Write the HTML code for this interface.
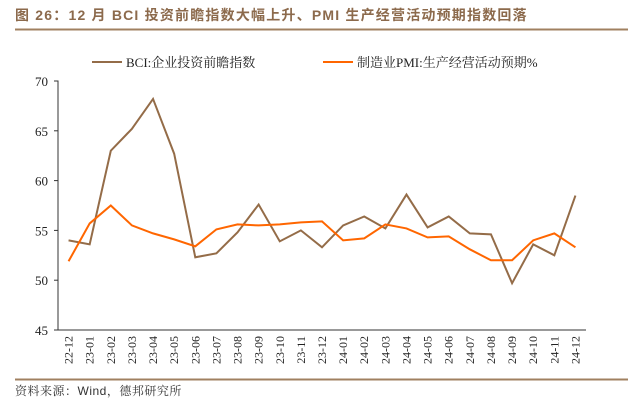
<!DOCTYPE html>
<html><head><meta charset="utf-8"><style>
body{margin:0;width:643px;height:407px;background:#fff;overflow:hidden;font-family:"Liberation Serif","Noto Serif CJK SC",serif}
#title{position:absolute;left:15px;top:5px;font:bold 14px "Liberation Sans","Noto Sans CJK SC",sans-serif;color:#8c6a4c;white-space:nowrap;letter-spacing:1.2px}
#src{position:absolute;left:15px;top:382px;font:12px "Liberation Sans","Noto Serif CJK SC",sans-serif;color:#333;letter-spacing:0.5px}
</style></head><body>
<div id="title">图 26：12 月 BCI 投资前瞻指数大幅上升、PMI 生产经营活动预期指数回落</div>
<svg id="c" width="643" height="407" style="position:absolute;left:0;top:0"></svg>
<div id="src">资料来源：Wind，德邦研究所</div>
<script>
const categories=["22-12","23-01","23-02","23-03","23-04","23-05","23-06","23-07","23-08","23-09","23-10","23-11","23-12","24-01","24-02","24-03","24-04","24-05","24-06","24-07","24-08","24-09","24-10","24-11","24-12"];
const bciValues=[54.0,53.6,63.0,65.2,68.2,62.7,52.3,52.7,54.8,57.6,53.9,55.0,53.3,55.5,56.4,55.2,58.6,55.3,56.4,54.7,54.6,49.7,53.6,52.5,58.5];
const pmiValues=[51.9,55.7,57.5,55.5,54.7,54.1,53.4,55.1,55.6,55.5,55.6,55.8,55.9,54.0,54.2,55.6,55.2,54.3,54.4,53.1,52.0,52.0,54.0,54.7,53.3];
const yTicks=[45,50,55,60,65,70];
const NS="http://www.w3.org/2000/svg",svg=document.getElementById('c');
const x0=58,x1=586,yTop=81,yBot=330;
const xs=i=>x0+(x1-x0)/categories.length*(i+0.5);
const ys=v=>yBot-(v-45)/25*(yBot-yTop);
function mk(t,a,p){const e=document.createElementNS(NS,t);for(const k in a)e.setAttribute(k,a[k]);(p||svg).appendChild(e);return e;}
let e;
e=mk('line',{x1:15,x2:628,y1:29.5,y2:29.5,stroke:'#a08060','stroke-width':2});

e=mk('line',{x1:15,x2:628,y1:379.5,y2:379.5,stroke:'#a08060','stroke-width':2});

e=mk('path',{d:`M${x0-4},${yTop}H${x0}V${yBot}H${x1}`,fill:'none',stroke:'#333','stroke-width':1});

yTicks.forEach(v=>{
 const y=ys(v);
 const tk=mk('line',{x1:x0-4,x2:x0,y1:y,y2:y,stroke:'#333'});
 
 const t=mk('text',{x:x0-10,y:y+5,'text-anchor':'end','font-size':13,fill:'#222'});t.textContent=v;
 
});
categories.forEach((c,i)=>{
 const x=xs(i);
 const t=mk('text',{x:0,y:0,transform:`translate(${x+4},${336}) rotate(-90)`,'text-anchor':'end','font-size':12,fill:'#222'});t.textContent=c;
 
});
function line(vals,color,name){
 const p=mk('polyline',{points:vals.map((v,i)=>xs(i)+','+ys(v)).join(' '),fill:'none',stroke:color,'stroke-width':2,'stroke-linejoin':'miter'});
 
}
line(bciValues,'#946c48','bci-line');
line(pmiValues,'#ff6600','pmi-line');
function legend(x,color,label,name){
 const g=mk('g',{});
 
 mk('line',{x1:x,x2:x+30,y1:62,y2:62,stroke:color,'stroke-width':2},g);
 const t=mk('text',{x:x+34,y:67,'font-size':13,fill:'#222'},g);t.textContent=label;
}
legend(92,'#946c48','BCI:企业投资前瞻指数','legend-bci');
legend(323,'#ff6600','制造业PMI:生产经营活动预期%','legend-pmi');
</script>
</body></html>
